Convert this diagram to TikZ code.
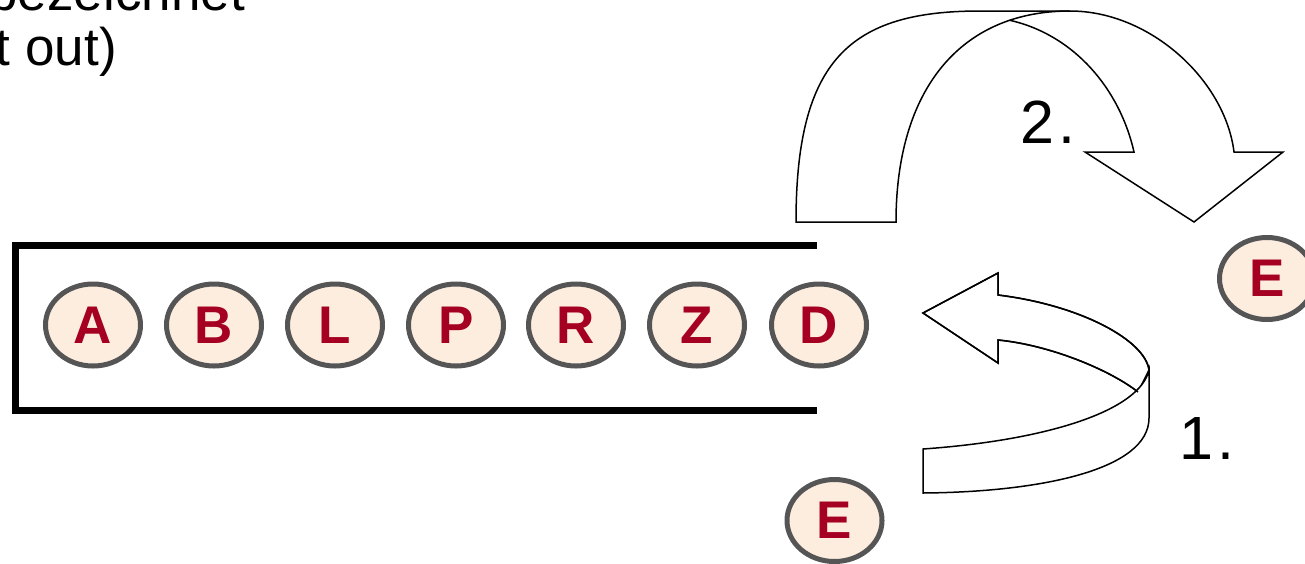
\documentclass[tikz,border=0pt]{standalone}
\usepackage{fontspec}
\setmainfont{Liberation Sans}
\usetikzlibrary{shapes.geometric}
\definecolor{itemfill}{HTML}{FDEDDF}
\definecolor{itemedge}{HTML}{555555}
\definecolor{itemtext}{HTML}{A50021}
\tikzset{
  item/.style={ellipse, draw=itemedge, fill=itemfill, line width=5pt,
    minimum width=95pt, minimum height=82pt, inner sep=0pt,
    text=itemtext, font=\fontsize{53}{60}\selectfont\bfseries},
  stackwall/.style={line width=7pt, line cap=butt, line join=miter},
  bandarrow/.style={draw=black, fill=white, line width=1.5pt, line join=miter},
  bandline/.style={draw=black, line width=1.5pt},
  steplabel/.style={anchor=base west, inner sep=0pt, font=\fontsize{61}{66}\selectfont},
  caption/.style={anchor=base east, inner sep=0pt, font=\fontsize{53}{60}\selectfont}
}
\begin{document}
\begin{tikzpicture}[x=1pt, y=-1pt]
\useasboundingbox (0,0) rectangle (1305,563);
\clip (0,0) rectangle (1305,563);

% caption lines at the top left
\node[caption] (cap1) at (245,10) {bezeichnet};
\node[caption] (cap2) at (117,65) {(last in first out)};

% the stack, open on the right
\draw[stackwall] (817,245.5) -- (15.5,245.5) -- (15.5,410) -- (817,410);

% stacked elements
\node[item] (a) at (93,325)  {A};
\node[item] (b) at (214,325) {B};
\node[item] (l) at (335,325) {L};
\node[item] (p) at (456,325) {P};
\node[item] (r) at (576,325) {R};
\node[item] (z) at (697,325) {Z};
\node[item] (d) at (819,325) {D};

% element being pushed and element popped
\node[item] (e1) at (834.5,520.5) {E};
\node[item] (e2) at (1267,278.5) {E};

% step 1: curved ribbon arrow into the stack
\path[bandarrow] (1149,370) .. controls (1145,340) and (1080,305) .. (998,295)
  -- (998,273) -- (923,313) -- (998,363) -- (998,340)
  .. controls (1050,345) and (1110,370) .. (1138,392) -- cycle;
\path[bandarrow] (923,449) .. controls (1050,440) and (1140,410) .. (1149,370)
  -- (1149,418) .. controls (1149,470) and (1040,492) .. (923,493) -- cycle;
\draw[bandline] (1149,370) .. controls (1145,340) and (1080,305) .. (998,295)
  -- (998,273) -- (923,313) -- (998,363) -- (998,340)
  .. controls (1050,345) and (1110,370) .. (1138,392);

% step 2: curved arrow out of the stack
\path[bandarrow] (796,222) .. controls (796,60) and (850,11) .. (980,11)
  -- (1070,11) .. controls (1150,11) and (1225,80) .. (1234,152)
  -- (1283,152) -- (1194,222) -- (1085,152) -- (1134,152)
  .. controls (1120,90) and (1075,35) .. (1009.66,20.27)
  .. controls (936.96,44.72) and (896,116.4) .. (896,222) -- cycle;
\draw[bandline] (1009.66,20.27) .. controls (1027.84,14.16) and (1048,11) .. (1070,11);

% step numbers
\node[steplabel] (n2) at (1020,143) {2\kern4pt.};
\node[steplabel] (n1) at (1179.5,459) {1\kern4pt.};
\end{tikzpicture}
\end{document}
